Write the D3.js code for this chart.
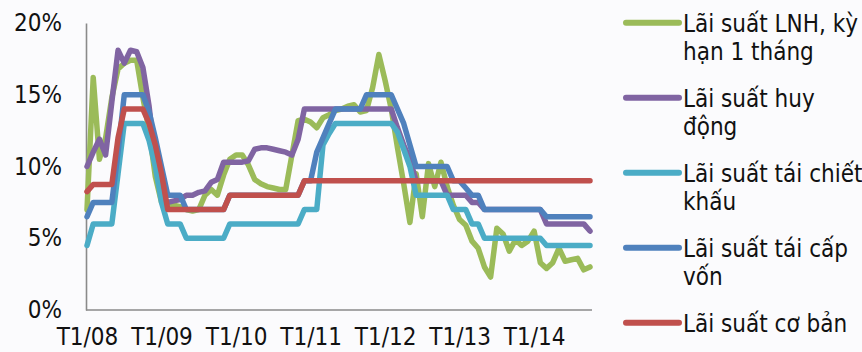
<!DOCTYPE html>
<html>
<head>
<meta charset="utf-8">
<script src="https://cdn.jsdelivr.net/npm/d3@7"></script>
<style>
  html, body { margin: 0; padding: 0; background: #fbfbfd; }
  svg text { font-family: "DejaVu Sans Condensed", "DejaVu Sans", sans-serif; font-stretch: condensed; font-size: 24px; fill: #111; }
</style>
</head>
<body>
<svg id="chart" width="862" height="352"></svg>
<script>
// ---- data (monthly, T1/2008 .. T10/2014) ----
const xTickLabels = ["T1/08", "T1/09", "T1/10", "T1/11", "T1/12", "T1/13", "T1/14"];
const yTickValues = [0, 5, 10, 15, 20];

const seriesNames = [
  "Lãi suất LNH, kỳ hạn 1 tháng",
  "Lãi suất huy động",
  "Lãi suất tái chiết khấu",
  "Lãi suất tái cấp vốn",
  "Lãi suất cơ bản"
];
const legendLines = [
  ["Lãi suất LNH, kỳ", "hạn 1 tháng"],
  ["Lãi suất huy", "động"],
  ["Lãi suất tái chiết", "khấu"],
  ["Lãi suất tái cấp", "vốn"],
  ["Lãi suất cơ bản"]
];
const seriesColors = ["#9BBB59", "#8064A2", "#4BACC6", "#4F81BD", "#C0504D"];

const lnh = [
  7.0, 16.2, 10.5, 12.0, 14.8, 16.8, 17.2, 17.4, 17.4, 14.8, 12.5, 9.3,
  7.5, 7.3, 7.3, 7.2, 7.0, 6.9, 7.0, 8.0, 8.4, 8.0, 9.4, 10.5,
  10.8, 10.8, 10.1, 9.1, 8.8, 8.6, 8.5, 8.4, 8.4, 10.8, 13.2, 13.3,
  13.1, 12.7, 13.4, 13.6, 13.9, 14.0, 14.2, 14.3, 13.8, 13.9, 15.5, 17.8,
  16.0, 14.0, 11.3, 8.8, 6.1, 9.5, 6.5, 10.2, 8.6, 10.3, 8.6, 7.3,
  6.3, 5.9, 4.8, 4.3, 3.0, 2.3, 5.7, 5.3, 4.1, 4.9, 4.5, 4.8,
  5.5, 3.3, 2.9, 3.3, 4.3, 3.4, 3.5, 3.6, 2.8, 3.0
];
const huyDong = [
  10.0, 11.0, 11.9, 10.8, 14.5, 18.1, 17.2, 18.1, 18.0, 16.9, 14.2, 10.4,
  8.0, 7.5, 7.6, 7.7, 8.0, 8.0, 8.2, 8.3, 8.9, 9.1, 10.3, 10.3,
  10.3, 10.3, 10.4, 11.2, 11.3, 11.3, 11.2, 11.1, 11.0, 10.8, 11.9, 14.0,
  14.0, 14.0, 14.0, 14.0, 14.0, 14.0, 14.0, 14.0, 14.0, 14.0, 14.0, 14.0,
  14.0, 14.0, 12.7, 11.5, 10.5, 9.0, 9.0, 9.0, 9.0, 9.0, 8.0, 8.0,
  8.0, 8.0, 7.5, 7.5, 7.0, 7.0, 7.0, 7.0, 7.0, 7.0, 7.0, 7.0,
  7.0, 7.0, 6.0, 6.0, 6.0, 6.0, 6.0, 6.0, 6.0, 5.5
];
const taiChietKhau = [
  4.5, 6.0, 6.0, 6.0, 6.0, 9.5, 13.0, 13.0, 13.0, 13.0, 11.8, 10.0,
  7.5, 6.0, 6.0, 6.0, 5.0, 5.0, 5.0, 5.0, 5.0, 5.0, 5.0, 6.0,
  6.0, 6.0, 6.0, 6.0, 6.0, 6.0, 6.0, 6.0, 6.0, 6.0, 6.0, 7.0,
  7.0, 7.0, 11.5, 12.3, 13.0, 13.0, 13.0, 13.0, 13.0, 13.0, 13.0, 13.0,
  13.0, 13.0, 12.4, 11.2, 10.0, 8.0, 8.0, 8.0, 8.0, 8.0, 8.0, 7.0,
  7.0, 7.0, 6.0, 6.0, 5.0, 5.0, 5.0, 5.0, 5.0, 5.0, 5.0, 5.0,
  5.0, 5.0, 4.5, 4.5, 4.5, 4.5, 4.5, 4.5, 4.5, 4.5
];
const taiCapVon = [
  6.5, 7.5, 7.5, 7.5, 7.5, 11.0, 15.0, 15.0, 15.0, 15.0, 13.8, 12.0,
  10.0, 8.0, 8.0, 8.0, 7.0, 7.0, 7.0, 7.0, 7.0, 7.0, 7.0, 8.0,
  8.0, 8.0, 8.0, 8.0, 8.0, 8.0, 8.0, 8.0, 8.0, 8.0, 8.0, 9.0,
  9.0, 11.0, 12.0, 13.0, 14.0, 14.0, 14.0, 14.0, 14.0, 15.0, 15.0, 15.0,
  15.0, 15.0, 14.0, 13.0, 11.5, 10.0, 10.0, 10.0, 10.0, 10.0, 10.0, 9.0,
  9.0, 8.5, 8.0, 8.0, 7.0, 7.0, 7.0, 7.0, 7.0, 7.0, 7.0, 7.0,
  7.0, 7.0, 6.5, 6.5, 6.5, 6.5, 6.5, 6.5, 6.5, 6.5
];
const coBan = [
  8.25, 8.75, 8.75, 8.75, 8.75, 12.0, 14.0, 14.0, 14.0, 14.0, 13.0, 11.5,
  9.5, 7.0, 7.0, 7.0, 7.0, 7.0, 7.0, 7.0, 7.0, 7.0, 7.0, 8.0,
  8.0, 8.0, 8.0, 8.0, 8.0, 8.0, 8.0, 8.0, 8.0, 8.0, 8.0, 9.0,
  9.0, 9.0, 9.0, 9.0, 9.0, 9.0, 9.0, 9.0, 9.0, 9.0, 9.0, 9.0,
  9.0, 9.0, 9.0, 9.0, 9.0, 9.0, 9.0, 9.0, 9.0, 9.0, 9.0, 9.0,
  9.0, 9.0, 9.0, 9.0, 9.0, 9.0, 9.0, 9.0, 9.0, 9.0, 9.0, 9.0,
  9.0, 9.0, 9.0, 9.0, 9.0, 9.0, 9.0, 9.0, 9.0, 9.0
];
const allSeries = [lnh, huyDong, taiChietKhau, taiCapVon, coBan];

// ---- drawing ----
const svg = d3.select("#chart");
svg.append("rect").attr("width", 862).attr("height", 352).attr("fill", "#fbfbfd");

const n = lnh.length;
const x = d3.scaleLinear().domain([0, n - 1]).range([87, 590]);
const y = d3.scaleLinear().domain([0, 20]).range([310, 23]);

// y axis
const yAxis = svg.append("g").attr("transform", "translate(86,0)")
  .call(d3.axisLeft(y).tickValues(yTickValues).tickFormat(d => d + "%").tickSize(0).tickPadding(24));
yAxis.select(".domain").attr("stroke", "#8a8a8a").attr("stroke-width", 1.6);
yAxis.selectAll("text").style("font-size", "24px").attr("fill", "#111");

// x axis
const xTickVals = xTickLabels.map((_, i) => i * 12);
const xAxis = svg.append("g").attr("transform", "translate(0,310)")
  .call(d3.axisBottom(x).tickValues(xTickVals).tickFormat((d, i) => xTickLabels[i]).tickSize(0).tickSizeOuter(0).tickPadding(18));
xAxis.select(".domain").attr("stroke", "#8a8a8a").attr("stroke-width", 1.6).attr("d", "M86,0H592");
xAxis.selectAll("text").style("font-size", "24px").attr("fill", "#111");

// lines
const line = d3.line().x((d, i) => x(i)).y(d => y(d)).curve(d3.curveLinear);
allSeries.forEach((s, k) => {
  svg.append("path").datum(s)
    .attr("d", line)
    .attr("fill", "none")
    .attr("stroke", seriesColors[k])
    .attr("stroke-width", 5.5)
    .attr("stroke-linejoin", "round")
    .attr("stroke-linecap", "round");
});

// legend
const lg = svg.append("g");
legendLines.forEach((lines, k) => {
  const ly = 22.7 + 75 * k;
  lg.append("line").attr("x1", 626).attr("x2", 679).attr("y1", ly).attr("y2", ly)
    .attr("stroke", seriesColors[k]).attr("stroke-width", 6).attr("stroke-linecap", "round");
  lines.forEach((t, j) => {
    lg.append("text").attr("x", 683).attr("y", ly + 9 + 28 * j).text(t);
  });
});
</script>
</body>
</html>
